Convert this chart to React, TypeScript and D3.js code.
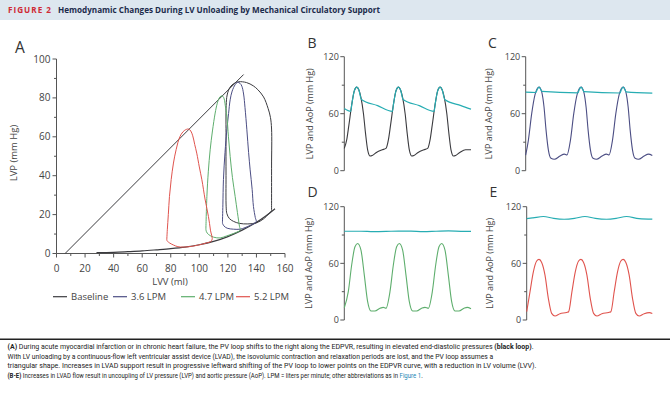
import React, { useLayoutEffect, useRef, useState } from "react";
import * as d3 from "d3";

type Pt = [number, number];

// ---------- Panel A data (LVV ml, LVP mmHg) ----------
const espvr: Pt[] = [[6, 0], [131, 92]];
const edpvr: Pt[] = [
  [28, 0.4], [40, 0.6], [50, 0.95], [60, 1.35], [70, 1.9], [80, 2.5], [90, 3.3],
  [100, 4.5], [110, 6.2], [120, 8.7], [130, 12], [140, 16], [147, 19.5], [153, 23],
];
const loopBaseline: Pt[] = [
  [150.6, 22], [150.6, 45], [150.6, 64], [149.8, 70], [148.2, 74.5], [145, 80.5], [141, 84.2],
  [137.8, 86.2], [133, 87.9], [127.5, 88.3], [124.5, 87.5], [121.5, 85.5], [119.5, 81.5],
  [118.8, 76], [118.7, 60], [118.7, 40], [118.8, 24], [119.3, 20.5], [121, 18], [124, 16.5],
  [128, 15.5], [134, 15.2], [140, 15.8], [145, 17.8], [150.6, 22],
];
const loop36: Pt[] = [
  [116.2, 15.6], [116.5, 25], [116.9, 38], [118, 52], [119.3, 63.6], [120.5, 72], [121.6, 79],
  [123, 83.5], [125.1, 86.8], [126.8, 88], [128.5, 87.5], [129.8, 86], [131, 82], [132, 75],
  [133.3, 63.6], [134.5, 52], [135.6, 43], [137, 33], [137.9, 24.2], [139.2, 18.5], [139.8, 16.3],
  [136, 14.6], [132, 13.3], [128.6, 12.5], [124, 12.5], [119.5, 13], [117.2, 14.2], [116.2, 15.6],
];
const loop47: Pt[] = [
  [104.6, 12.5], [105.3, 29.3], [106.3, 42], [107.6, 53.3], [109.2, 63], [111.1, 72.2], [112.5, 77],
  [113.9, 79.9], [115.3, 81], [116.5, 80.8], [117.4, 79.5], [118.2, 76], [119.3, 70.5], [120.4, 60],
  [121.6, 49.9], [123.2, 39], [125.1, 29.3], [126.7, 21], [128.1, 14], [128.6, 12],
  [124, 10.3], [119, 9], [114.6, 8], [110, 8.4], [106.4, 9.8], [105, 11.2], [104.6, 12.5],
];
const loop52: Pt[] = [
  [77.2, 6.7], [77.6, 12.2], [78.3, 20], [79.1, 29.3], [80.3, 38], [81.9, 46.5], [83.8, 53.5],
  [86.5, 60.2], [89.5, 63.2], [92.4, 64], [94, 63], [95.4, 60.5], [96.8, 56], [98.2, 51.6],
  [100, 44.5], [101.8, 37.9], [104, 28], [106.4, 19], [107.8, 12], [108.8, 6.7],
  [104, 5.2], [99, 4.3], [94, 3.6], [88.9, 3.3], [85, 3.5], [81.8, 4.4], [79, 5.5], [77.2, 6.7],
];
const legendLabels = ["Baseline", "3.6 LPM", "4.7 LPM", "5.2 LPM"];
const xTicksA = [0, 20, 40, 60, 80, 100, 120, 140, 160];
const yTicksA = [0, 20, 40, 60, 80, 100];

// ---------- Panels B-E data (time s, pressure mmHg) ----------
const lvpB: Pt[] = [
  [0, 23.5], [0.06, 33], [0.11, 48], [0.18, 70], [0.24, 84], [0.3, 88], [0.35, 85], [0.4, 77],
  [0.46, 60], [0.51, 39], [0.56, 22], [0.62, 15.5], [0.67, 16], [0.78, 19.5], [0.91, 22],
  [1.0, 23.5], [1.06, 33], [1.11, 48], [1.18, 70], [1.24, 84], [1.3, 88], [1.35, 85], [1.4, 77],
  [1.46, 60], [1.51, 39], [1.56, 22], [1.62, 15.5], [1.67, 16], [1.78, 19.5], [1.91, 22],
  [2.0, 23.5], [2.06, 33], [2.11, 48], [2.18, 70], [2.24, 84], [2.3, 88], [2.35, 85], [2.4, 77],
  [2.46, 60], [2.51, 39], [2.56, 22], [2.62, 15.5], [2.67, 16], [2.78, 19.5], [2.91, 22], [3.04, 22],
];
const aopB: Pt[] = [
  [0, 65.5], [0.155, 62.5], [0.18, 70], [0.24, 84], [0.3, 88], [0.35, 85], [0.41, 75], [0.8, 68.5],
  [1.155, 62.5], [1.18, 70], [1.24, 84], [1.3, 88], [1.35, 85], [1.41, 75], [1.8, 68.5],
  [2.155, 62.5], [2.18, 70], [2.24, 84], [2.3, 88], [2.35, 85], [2.41, 75], [2.8, 68.5], [3.04, 64.8],
];
const lvpC: Pt[] = [
  [0, 16.5], [0.064, 32], [0.144, 60], [0.224, 80], [0.32, 88], [0.384, 83], [0.44, 67], [0.488, 43],
  [0.544, 22], [0.608, 13], [0.688, 12], [0.824, 15.4], [0.928, 17.5], [0.99, 16.5],
  [1.074, 32], [1.154, 60], [1.234, 80], [1.33, 88], [1.394, 83], [1.45, 67], [1.498, 43],
  [1.554, 22], [1.618, 13], [1.698, 12], [1.834, 15.4], [1.938, 17.5], [2.0, 16.5],
  [2.084, 32], [2.164, 60], [2.244, 80], [2.34, 88], [2.404, 83], [2.46, 67], [2.508, 43],
  [2.564, 22], [2.628, 13], [2.708, 12], [2.844, 15.4], [2.948, 17.5], [3.04, 16],
];
const aopC: Pt[] = [
  [0, 82.8], [0.245, 82.3], [0.27, 84.8], [0.32, 88], [0.36, 85.5], [0.39, 83.4], [1.255, 82],
  [1.28, 84.8], [1.33, 88], [1.37, 85.5], [1.4, 83.2], [2.265, 81.8], [2.29, 84.6], [2.34, 88],
  [2.38, 85.5], [2.41, 83], [3.04, 81.6],
];
const lvpD: Pt[] = [
  [0, 13], [0.096, 30], [0.176, 58], [0.256, 77.6], [0.32, 81], [0.4, 74], [0.48, 47.6], [0.56, 19.4],
  [0.64, 9.5], [0.736, 9.5], [0.856, 12.4], [0.936, 13.4], [1.0, 12.4],
  [1.096, 30], [1.176, 58], [1.256, 77.6], [1.32, 81], [1.4, 74], [1.48, 47.6], [1.56, 19.4],
  [1.64, 9.5], [1.736, 9.5], [1.856, 12.4], [1.936, 13.4], [2.016, 12.4],
  [2.112, 30], [2.192, 58], [2.272, 77.6], [2.336, 81], [2.416, 74], [2.496, 47.6], [2.576, 19.4],
  [2.656, 9.5], [2.752, 9.5], [2.872, 12.4], [2.95, 13.4], [3.04, 12],
];
const aopD: Pt[] = [
  [0, 94], [0.4, 94], [0.7, 93.6], [1.0, 93.8], [1.3, 94.2], [1.6, 94.1], [1.9, 93.7],
  [2.2, 94], [2.5, 94.3], [2.8, 93.9], [3.04, 93.8],
];
const lvpE: Pt[] = [
  [0, 8.8], [0.08, 30], [0.16, 51], [0.24, 62.5], [0.296, 64.2], [0.36, 61], [0.44, 47.6], [0.52, 23],
  [0.6, 7], [0.68, 4.2], [0.8, 6.7], [0.96, 8], [1.008, 8.8],
  [1.088, 30], [1.168, 51], [1.248, 62.5], [1.304, 64.2], [1.368, 61], [1.448, 47.6], [1.528, 23],
  [1.608, 7], [1.688, 4.2], [1.808, 6.7], [1.968, 8], [2.024, 8.8],
  [2.104, 30], [2.184, 51], [2.264, 62.5], [2.32, 64.2], [2.384, 61], [2.464, 47.6], [2.544, 23],
  [2.624, 7], [2.704, 4.2], [2.824, 6.7], [2.95, 7.8], [3.02, 7],
];
const aopE: Pt[] = [
  [0, 107.4], [0.15, 108.2], [0.4, 109.6], [0.65, 107.6], [0.9, 106.7], [1.15, 107.6], [1.4, 109.6],
  [1.65, 107.6], [1.92, 106.7], [2.15, 107.6], [2.4, 109.6], [2.7, 107.4], [3.02, 106.9],
];
const yTicksBE = [0, 60, 120];
const yMinorBE = [30, 90];

const title = "Hemodynamic Changes During LV Unloading by Mechanical Circulatory Support";

// caption lines: pieces [text, bold, colour]
type Piece = [string, boolean, string];
const captionLines: { y: number; width: number; pieces: Piece[] }[] = [
  {
    y: 349, width: 526,
    pieces: [
      ["(A)", true, "#222"],
      [" During acute myocardial infarction or in chronic heart failure, the PV loop shifts to the right along the EDPVR, resulting in elevated end-diastolic pressures ", false, "#222"],
      ["(black loop)", true, "#222"],
      [".", false, "#222"],
    ],
  },
  {
    y: 358.6, width: 485,
    pieces: [
      ["With LV unloading by a continuous-flow left ventricular assist device (LVAD), the isovolumic contraction and relaxation periods are lost, and the PV loop assumes a", false, "#222"],
    ],
  },
  {
    y: 368.3, width: 528.5,
    pieces: [
      ["triangular shape. Increases in LVAD support result in progressive leftward shifting of the PV loop to lower points on the EDPVR curve, with a reduction in LV volume (LVV).", false, "#222"],
    ],
  },
  {
    y: 378, width: 415,
    pieces: [
      ["(B-E)", true, "#222"],
      [" Increases in LVAD flow result in uncoupling of LV pressure (LVP) and aortic pressure (AoP). LPM = liters per minute; other abbreviations as in ", false, "#222"],
      ["Figure 1", false, "#1a86b5"],
      [".", false, "#222"],
    ],
  },
];

const C_BASE = "#3b3b3f";
const C_36 = "#4c4e84";
const C_47 = "#5eae6d";
const C_52 = "#e0544e";
const C_TEAL = "#27adb3";
const AXIS = "#555";
const TXT = "#444";
const FONT = "'Open Sans', 'DejaVu Sans', sans-serif";

function CaptionLine({ y, width, pieces }: { y: number; width: number; pieces: Piece[] }) {
  const ref = useRef<SVGTextElement>(null);
  const [sx, setSx] = useState(0.7);
  useLayoutEffect(() => {
    if (ref.current) {
      const w = ref.current.getComputedTextLength();
      if (w > 0) setSx(width / w);
    }
  }, [width]);
  return (
    <g transform={`translate(7.5,${y}) scale(${sx},1)`}>
      <text ref={ref} x={0} y={0} style={{ whiteSpace: "pre" }}>
        {pieces.map(([s, b, c], j) => (
          <tspan key={j} fontWeight={b ? 700 : 400} fill={c}>{s}</tspan>
        ))}
      </text>
    </g>
  );
}

function PanelA() {
  const x = d3.scaleLinear().domain([0, 160]).range([56.5, 285]);
  const y = d3.scaleLinear().domain([0, 100]).range([253.5, 59]);
  const line = d3.line<Pt>().x((d) => x(d[0])).y((d) => y(d[1]));
  const smooth = d3.line<Pt>().x((d) => x(d[0])).y((d) => y(d[1])).curve(d3.curveCatmullRom.alpha(0.5));
  const loops: [Pt[], string][] = [
    [loopBaseline, C_BASE], [loop36, C_36], [loop47, C_47], [loop52, C_52],
  ];
  const colors = [C_BASE, C_36, C_47, C_52];
  const legendX = [53, 113, 181, 236];
  const minorX = d3.range(10, 160, 20);
  const minorY = d3.range(10, 100, 20);
  return (
    <g>
      <text x={15} y={52.7} fontSize={15.5} fill="#333" fontFamily={FONT}>A</text>
      <line x1={x(0)} x2={x(0)} y1={y(0)} y2={y(100)} stroke={AXIS} strokeWidth={1} />
      <line x1={x(0)} x2={x(160)} y1={y(0)} y2={y(0)} stroke={AXIS} strokeWidth={1} />
      {yTicksA.map((t) => (
        <g key={"ya" + t}>
          <line x1={x(0) - 4} x2={x(0)} y1={y(t)} y2={y(t)} stroke={AXIS} />
          <text x={x(0) - 6} y={y(t)} dy="0.35em" textAnchor="end" fontSize={10} fill={TXT} fontFamily={FONT}>{t}</text>
        </g>
      ))}
      {minorY.map((t) => (
        <line key={"yam" + t} x1={x(0) - 2.5} x2={x(0)} y1={y(t)} y2={y(t)} stroke={AXIS} />
      ))}
      {xTicksA.map((t) => (
        <g key={"xa" + t}>
          <line x1={x(t)} x2={x(t)} y1={y(0)} y2={y(0) + 4} stroke={AXIS} />
          <text x={x(t)} y={272} textAnchor="middle" fontSize={10} fill={TXT} fontFamily={FONT}>{t}</text>
        </g>
      ))}
      {minorX.map((t) => (
        <line key={"xam" + t} x1={x(t)} x2={x(t)} y1={y(0)} y2={y(0) + 2.5} stroke={AXIS} />
      ))}
      <text transform={`translate(17,153) rotate(-90)`} textAnchor="middle" fontSize={9.5} fill={TXT} fontFamily={FONT}>LVP (mm Hg)</text>
      <text x={170} y={285} textAnchor="middle" fontSize={9.5} fill={TXT} fontFamily={FONT}>LVV (ml)</text>
      <path d={line(espvr) || ""} fill="none" stroke={C_BASE} strokeWidth={1} />
      <path d={smooth(edpvr) || ""} fill="none" stroke={C_BASE} strokeWidth={1.2} />
      {loops.map(([d, c], i) => (
        <path key={"loop" + i} d={smooth(d) || ""} fill="none" stroke={c} strokeWidth={1} />
      ))}
      {legendLabels.map((l, i) => (
        <g key={"leg" + i}>
          <line x1={legendX[i]} x2={legendX[i] + 14} y1={296.7} y2={296.7} stroke={colors[i]} strokeWidth={1.2} />
          <text x={legendX[i] + 18} y={296.7} dy="0.35em" fontSize={9.5} fill={TXT} fontFamily={FONT}>{l}</text>
        </g>
      ))}
    </g>
  );
}

type SmallProps = {
  letter: string;
  letterX: number;
  letterY: number;
  axisX: number;
  right: number;
  yTop: number;
  yBottom: number;
  labelX: number;
  tEnd: number;
  lvp: Pt[];
  lvpColor: string;
  aop: Pt[];
};

function SmallPanel(p: SmallProps) {
  const x = d3.scaleLinear().domain([0, p.tEnd]).range([p.axisX, p.right]);
  const y = d3.scaleLinear().domain([0, 120]).range([p.yBottom, p.yTop]);
  const line = d3.line<Pt>().x((d) => x(d[0])).y((d) => y(d[1])).curve(d3.curveMonotoneX);
  return (
    <g>
      <text x={p.letterX} y={p.letterY} fontSize={14} fill="#333" fontFamily={FONT}>{p.letter}</text>
      <line x1={p.axisX} x2={p.axisX} y1={y(0)} y2={y(120)} stroke={AXIS} strokeWidth={1} />
      {yTicksBE.map((t) => (
        <g key={"t" + t}>
          <line x1={p.axisX - 4} x2={p.axisX} y1={y(t)} y2={y(t)} stroke={AXIS} />
          <text x={p.axisX - 5.5} y={y(t)} dy="0.35em" textAnchor="end" fontSize={9} fill={TXT} fontFamily={FONT}>{t}</text>
        </g>
      ))}
      {yMinorBE.map((t) => (
        <line key={"m" + t} x1={p.axisX - 2.5} x2={p.axisX} y1={y(t)} y2={y(t)} stroke={AXIS} />
      ))}
      <text transform={`translate(${p.labelX},${(y(0) + y(120)) / 2}) rotate(-90)`} textAnchor="middle" fontSize={9} fill={TXT} fontFamily={FONT}>LVP and AoP (mm Hg)</text>
      <path d={line(p.lvp) || ""} fill="none" stroke={p.lvpColor} strokeWidth={1.1} />
      <path d={line(p.aop) || ""} fill="none" stroke={C_TEAL} strokeWidth={1.2} />
    </g>
  );
}

export default function App() {
  return (
    <svg width={670} height={407} viewBox="0 0 670 407" style={{ position: "absolute", left: 0, top: 0, background: "#fff" }}>
      <rect x={0} y={0} width={670} height={407} fill="#fff" />
      <rect x={0} y={0} width={670} height={20} fill="#dde7ef" />
      <text x={8} y={12.5} fontSize={8} fontWeight={700} fill="#cf2a35" fontFamily={FONT} textLength={44} lengthAdjust="spacingAndGlyphs" letterSpacing={1}>FIGURE 2</text>
      <text x={58} y={12.5} fontSize={8.5} fontWeight={700} fill="#1b2b4b" fontFamily={FONT} textLength={322} lengthAdjust="spacingAndGlyphs">{title}</text>

      <PanelA />
      <SmallPanel letter="B" letterX={307.5} letterY={48.3} axisX={344.3} right={471} yTop={56.7} yBottom={170.7} labelX={313} tEnd={3.04} lvp={lvpB} lvpColor={C_BASE} aop={aopB} />
      <SmallPanel letter="C" letterX={488} letterY={47.5} axisX={525.7} right={652.3} yTop={56.7} yBottom={170.7} labelX={492} tEnd={3.04} lvp={lvpC} lvpColor={C_36} aop={aopC} />
      <SmallPanel letter="D" letterX={307.5} letterY={196.7} axisX={344.3} right={471} yTop={206.7} yBottom={320} labelX={312} tEnd={3.04} lvp={lvpD} lvpColor={C_47} aop={aopD} />
      <SmallPanel letter="E" letterX={489.5} letterY={196.7} axisX={526.7} right={652.3} yTop={206.7} yBottom={320} labelX={493} tEnd={3.02} lvp={lvpE} lvpColor={C_52} aop={aopE} />

      <line x1={0} x2={670} y1={339.2} y2={339.2} stroke="#222" strokeWidth={1.6} />
      <g fontFamily="Roboto, 'Open Sans', sans-serif" fontSize={7.8} fill="#222">
        {captionLines.map((ln, i) => (
          <CaptionLine key={"cap" + i} y={ln.y} width={ln.width} pieces={ln.pieces} />
        ))}
      </g>
    </svg>
  );
}
